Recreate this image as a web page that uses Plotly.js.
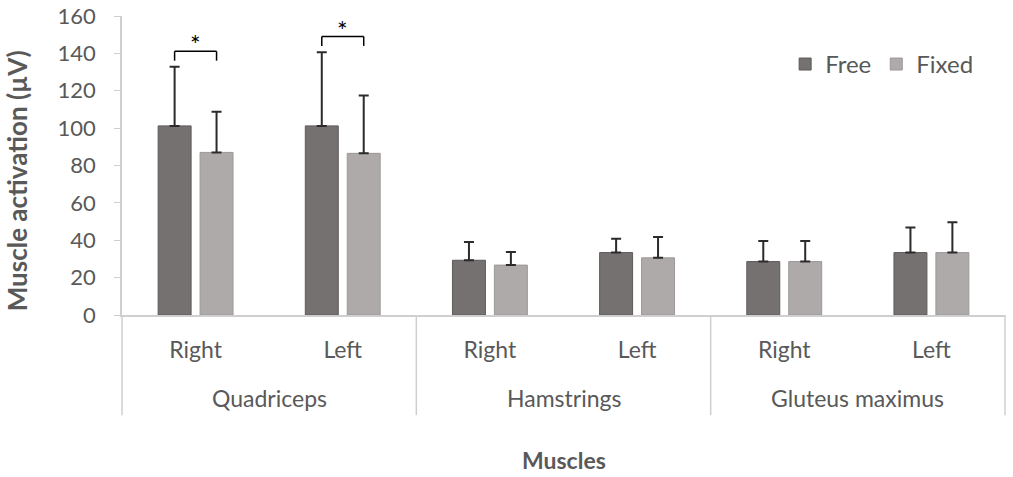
<!DOCTYPE html>
<html>
<head>
<meta charset="utf-8">
<script src="https://cdn.plot.ly/plotly-3.0.1.min.js"></script>
<style>
  body { margin: 0; background: #fff; }
  #grafico { width: 1013px; height: 477px; }
</style>
</head>
<body>
<div id="grafico"></div>
<script>
// grupos y lados
const grupos = ['Quadriceps', 'Quadriceps', 'Hamstrings', 'Hamstrings', 'Gluteus maximus', 'Gluteus maximus'];
const lados = ['Right', 'Left', 'Right', 'Left', 'Right', 'Left'];

// valores medios (µV)
const libre = [101.2, 101.2, 29.3, 33.4, 28.6, 33.4];
const fijo = [87.0, 86.5, 26.7, 30.6, 28.6, 33.4];

// desviaciones (solo hacia arriba)
const errLibre = [31.6, 39.4, 9.7, 7.4, 11.0, 13.4];
const errFijo = [21.8, 30.9, 7.0, 11.1, 11.0, 16.2];

// comparaciones significativas: indice de categoria, altura del corchete
const sigIndice = [0, 1];
const sigAltura = [141.1, 149.0];

// marcas del eje y
const ticksY = [0, 20, 40, 60, 80, 100, 120, 140, 160];

const fuente = 'Lato, "Open Sans", sans-serif';
const gris = '#595959';
const lineaEje = '#cfcfcf';

// claves unicas para cada barra del eje
const claves = grupos.map((g, i) => g + ' ' + lados[i]);
const nCat = claves.length;

const errorComun = {
    type: 'data',
    symmetric: false,
    arrayminus: [0, 0, 0, 0, 0, 0],
    color: '#2b2b2b',
    thickness: 2,
    width: 5
};

const trazaLibre = {
    x: claves,
    y: libre,
    type: 'bar',
    name: 'Free',
    marker: { color: '#767171', line: { color: '#5e5a5a', width: 1 } },
    error_y: { ...errorComun, array: errLibre }
};

const trazaFijo = {
    x: claves,
    y: fijo,
    type: 'bar',
    name: 'Fixed',
    marker: { color: '#AEAAAA', line: { color: '#9c9898', width: 1 } },
    error_y: { ...errorComun, array: errFijo }
};

const bargap = 0.43;
const desplazamiento = (1 - bargap) / 4;

const formas = [];
const notas = [];

// corchetes de significancia
sigIndice.forEach((idx, k) => {
    const x0 = idx - desplazamiento;
    const x1 = idx + desplazamiento;
    const yTop = sigAltura[k];
    const yLeg = yTop - 5;
    const linea = { color: '#000', width: 1.5 };
    formas.push({ type: 'line', xref: 'x', yref: 'y', x0: x0, x1: x1, y0: yTop, y1: yTop, line: linea });
    formas.push({ type: 'line', xref: 'x', yref: 'y', x0: x0, x1: x0, y0: yTop, y1: yLeg, line: linea });
    formas.push({ type: 'line', xref: 'x', yref: 'y', x0: x1, x1: x1, y0: yTop, y1: yLeg, line: linea });
    notas.push({
        x: idx, y: yTop, xref: 'x', yref: 'y', text: '*', showarrow: false,
        yanchor: 'bottom', yshift: -10, font: { family: fuente, size: 25, color: '#000' }
    });
});

// divisores y etiquetas de grupo
const bordes = [0];
const nombresGrupo = [];
grupos.forEach((g, i) => {
    if (i > 0 && g !== grupos[i - 1]) bordes.push(i);
    if (nombresGrupo.indexOf(g) < 0) nombresGrupo.push(g);
});
bordes.push(nCat);
bordes.forEach(b => {
    formas.push({
        type: 'line', xref: 'paper', yref: 'paper',
        x0: b / nCat, x1: b / nCat, y0: 0, y1: -0.335,
        line: { color: lineaEje, width: 1.5 }
    });
});
nombresGrupo.forEach(g => {
    const idx = grupos.map((v, i) => v === g ? i : null).filter(v => v !== null);
    const centro = (idx[0] + idx[idx.length - 1]) / 2;
    notas.push({
        x: centro, y: -0.276, xref: 'x', yref: 'paper', text: g, showarrow: false,
        yanchor: 'middle', font: { family: fuente, size: 23, color: gris }
    });
});

// titulos de los ejes
notas.push({
    x: 0.5, y: -0.485, xref: 'paper', yref: 'paper', text: '<b>Muscles</b>', showarrow: false,
    yanchor: 'middle', borderpad: 0, font: { family: fuente, size: 23, color: gris }
});
notas.push({
    x: -0.118, y: 0.45, xref: 'paper', yref: 'paper', text: '<b>Muscle activation (µV)</b>',
    showarrow: false, textangle: -90, xanchor: 'center', yanchor: 'middle',
    font: { family: fuente, size: 26, color: gris }
});

const layout = {
    width: 1013,
    height: 477,
    margin: { l: 122, r: 8, t: 16, b: 162 },
    paper_bgcolor: '#fff',
    plot_bgcolor: '#fff',
    barmode: 'group',
    bargap: bargap,
    bargroupgap: 0.214,
    font: { family: fuente, size: 22, color: gris },
    showlegend: true,
    legend: {
        orientation: 'h',
        x: 0.751, y: 0.838,
        xanchor: 'left', yanchor: 'middle',
        font: { family: fuente, size: 24, color: gris },
        bgcolor: 'rgba(0,0,0,0)'
    },
    xaxis: {
        type: 'category',
        tickvals: claves,
        ticktext: lados,
        showline: true,
        linecolor: lineaEje,
        linewidth: 1.5,
        ticks: '',
        ticklabelstandoff: 14,
        tickfont: { family: fuente, size: 23, color: gris },
        automargin: false
    },
    yaxis: {
        range: [0, 160],
        tickvals: ticksY,
        ticklabeloverflow: 'allow',
        showgrid: false,
        zeroline: false,
        showline: true,
        linecolor: lineaEje,
        linewidth: 1.5,
        ticks: 'outside',
        ticklen: 6,
        tickcolor: lineaEje,
        ticklabelstandoff: 14,
        tickfont: { family: fuente, size: 22, color: gris },
        automargin: false
    },
    shapes: formas,
    annotations: notas
};

Plotly.newPlot('grafico', [trazaLibre, trazaFijo], layout, { displayModeBar: false });
</script>
</body>
</html>
